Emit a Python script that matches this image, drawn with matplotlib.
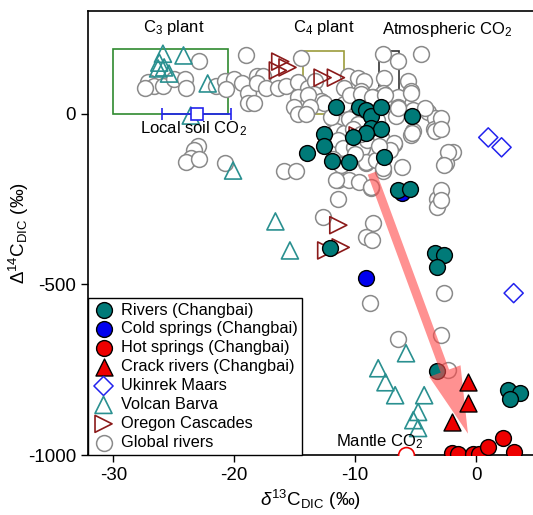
import numpy as np
import matplotlib
matplotlib.use("Agg")
import matplotlib.pyplot as plt
from matplotlib.patches import Rectangle

plt.rcParams['font.family'] = ['Liberation Sans', 'DejaVu Sans']
plt.rcParams['mathtext.fontset'] = 'custom'
plt.rcParams['mathtext.rm'] = 'Liberation Sans'
plt.rcParams['mathtext.it'] = 'Liberation Sans:italic'
plt.rcParams['axes.unicode_minus'] = False

# ---- data (d13C, D14C) ----
global_d13c = [-19.0, -22.9, -27.1, -26.6, -27.4, -25.9, -25.0, -24.1, -24.0, -21.5,
               -20.8, -20.0, -19.4, -18.9, -18.9, -18.1, -20.7, -18.4, -17.6, -18.1,
               -17.4, -16.4, -15.7, -14.5, -14.7, -13.9, -13.3, -14.7, -13.9, -15.1,
               -14.7, -13.4, -12.8, -10.6, -9.8, -9.3, -10.9, -9.5, -7.7, -6.5,
               -4.6, -7.6, -5.6, -5.4, -7.7, -8.5, -6.5, -6.5, -5.2, -4.0,
               -3.4, -3.5, -5.2, -6.6, -11.2, -11.8, -10.9, -10.6, -9.0,
               -23.0, -23.3, -23.6, -24.0, -22.9, -20.8, -15.9, -14.9,
               -11.4, -10.5, -9.7, -8.7, -11.4, -9.1, -7.7, -6.1, -6.8, -5.4,
               -3.4, -1.9, -2.5, -3.2, -3.2, -12.7, -8.5, -9.1, -8.6, -8.8,
               -2.7, -6.5, -2.9, -2.3,
               -13.9, -12.6, -13.7, -10.9, -10.4, -9.5, -8.6, -7.5, -6.5, -5.4,
               -4.2, -14.1, -11.2, -11.6, -10.9, -11.4, -11.0, -10.1, -9.4, -9.0,
               -7.9, -6.8, -7.1, -5.3, -11.8, -11.2, -9.1, -8.3, -7.7, -11.6,
               -8.7, -2.9, -2.9, -2.3, -2.7, -2.9, -2.9,
               -10.5, -9.8, -10.2, -9.5, -8.2, -8.0, -10.0, -12.0]
global_d14c = [170, 155, 91, 82, 76, 82, 102, 102, 76, 82,
               96, 102, 88, 61, 32, 111, 73, 32, 111, 88,
               76, 76, 82, 164, 91, 76, 96, 47, 32, 18,
               0, 58, 38, 111, 105, 96, 76, 67, 175, 155,
               175, 105, 96, 67, 61, 47, 47, 18, 9, 3,
               -12, -44, -50, -6, 9, -15, -35, -58, -41,
               -94, -108, -129, -143, -132, -146, -167, -167,
               -196, -196, -202, -219, -249, -146, -167, -158, -88, -64,
               -50, -114, -146, -249, -275, -304, -322, -363, -371, -556,
               -526, -661, -649, -751,
               53, 32, 18, 29, 53, 58, 47, 53, 15, 61,
               15, 0, -29, -50, -56, -79, -102, -99, -102, -79,
               -70, -85, -108, -58, -132, -152, -143, -137, -161, -196,
               -216, -12, -44, -114, -152, -225, -254,
               -15, -30, -45, -60, -20, -95, -120, -10]

rivers_d13c = [-11.6, -9.7, -9.1, -8.7, -7.9, -5.3, -8.7, -7.9, -9.1, -10.2,
               -12.6, -12.6, -14.0, -11.9, -10.5, -7.6, -6.5, -5.5, -12.1,
               -3.4, -2.7, -3.2, -3.2, 2.6, 3.6, 2.8]
rivers_d14c = [18, 18, 9, -6, 18, -6, -41, -44, -56, -70,
               -61, -94, -117, -140, -143, -126, -225, -222, -395,
               -409, -415, -450, -754, -810, -819, -836]

cold_d13c = [-9.1, -6.1]
cold_d14c = [-482, -234]

hot_d13c = [-2.0, -1.5, -0.3, 0.2, 1.0, 2.2, 3.1]
hot_d14c = [-995, -997, -997, -997, -976, -950, -992]

crack_d13c = [-0.7, -0.7, -2.0]
crack_d14c = [-787, -848, -904]

ukinrek_d13c = [1.0, 2.1, 3.1]
ukinrek_d14c = [-70, -99, -526]

barva_d13c = [-25.9, -24.2, -26.2, -26.3, -25.8, -25.4, -22.2, -23.6, -20.1, -16.6,
              -15.4, -5.8, -8.1, -7.5, -6.7, -4.3, -4.8, -5.2, -4.8]
barva_d14c = [175, 170, 149, 132, 135, 117, 88, -6, -167, -316,
              -401, -702, -746, -787, -825, -825, -874, -898, -921]

oregon_d13c = [-16.2, -15.6, -16.4, -12.7, -11.6, -9.8, -11.4, -11.2, -12.4]
oregon_d14c = [152, 135, 126, 105, 105, -64, -327, -392, -401]

# end-member ranges
c3_x, c3_y = (-30.0, -20.5), (0, 190)
c4_x, c4_y = (-14.3, -10.9), (0, 184)
atm_x, atm_y = (-8.0, -6.4), (50, 184)
soil_x, soil_y, soil_lo, soil_hi = -23.1, 0, 2.9, 2.8
mantle_x, mantle_y = -5.8, -1000
arrow_from, arrow_to = (-8.7, -167), (-0.6, -945)

teal = '#007a78'

fig = plt.figure(figsize=(5.33, 5.15), dpi=100)
ax = fig.add_axes([0.165, 0.1165, 0.835, 0.862])

for (x0, x1), (y0, y1), c in [(c3_x, c3_y, '#2f8a2f'), (c4_x, c4_y, '#9c9c3c'), (atm_x, atm_y, '#333333')]:
    ax.add_patch(Rectangle((x0, y0), x1 - x0, y1 - y0, fill=False, ec=c, lw=1.2, zorder=1))

ax.scatter(global_d13c, global_d14c, s=130, facecolor='white', edgecolor='#8a8a8a', lw=1.1,
           zorder=2, label='Global rivers')
ax.scatter(barva_d13c, barva_d14c, s=150, marker='^', facecolor='none', edgecolor='#2a9090',
           lw=1.2, zorder=3, label='Volcan Barva')
ax.scatter(oregon_d13c, oregon_d14c, s=150, marker='>', facecolor='none', edgecolor='#8b1a1a',
           lw=1.2, zorder=3, label='Oregon Cascades')
ax.scatter(ukinrek_d13c, ukinrek_d14c, s=95, marker='D', facecolor='none', edgecolor='#2222ee',
           lw=1.1, zorder=3, label='Ukinrek Maars')
ax.scatter(cold_d13c, cold_d14c, s=130, facecolor='#0000ee', edgecolor='black', lw=1.0,
           zorder=4, label='Cold springs (Changbai)')
ax.scatter(rivers_d13c, rivers_d14c, s=130, facecolor=teal, edgecolor='black', lw=1.0,
           zorder=5, label='Rivers (Changbai)')

ax.annotate('', xy=arrow_to, xytext=arrow_from, zorder=6,
            arrowprops=dict(arrowstyle='simple,head_length=2.4,head_width=1.2,tail_width=0.32',
                            mutation_scale=20, color='#ff4848', alpha=0.6, lw=0))

ax.scatter(crack_d13c, crack_d14c, s=150, marker='^', facecolor='#ee0000', edgecolor='black',
           lw=1.0, zorder=7, label='Crack rivers (Changbai)')
ax.scatter(hot_d13c, hot_d14c, s=130, facecolor='#ee0000', edgecolor='black', lw=1.0,
           zorder=7, label='Hot springs (Changbai)')
ax.scatter([mantle_x], [mantle_y], s=130, facecolor='white', edgecolor='#ee0000', lw=1.2, zorder=7)

ax.errorbar(soil_x, soil_y, xerr=[[soil_lo], [soil_hi]], fmt='s', ms=9, mfc='white', mec='#2222ee',
            mew=1.2, ecolor='#2222ee', elinewidth=1.2, capsize=4, zorder=8)

ax.text(-25.0, 252, 'C$_3$ plant', fontsize=12, ha='center', va='center')
ax.text(-12.6, 252, 'C$_4$ plant', fontsize=12, ha='center', va='center')
ax.text(-2.4, 245, 'Atmospheric CO$_2$', fontsize=12, ha='center', va='center')
ax.text(-23.4, -45, 'Local soil CO$_2$', fontsize=12, ha='center', va='center')
ax.text(-8.0, -962, 'Mantle CO$_2$', fontsize=12, ha='center', va='center')

ax.set_xlim(-32.1, 4.7)
ax.set_ylim(-1000, 300)
ax.set_xticks([-30, -20, -10, 0])
ax.set_yticks([0, -500, -1000])
ax.tick_params(labelsize=13.5, direction='out', length=5, width=1, top=False, right=False)
ax.spines['right'].set_visible(False)
for s in ['left', 'bottom', 'top']:
    ax.spines[s].set_linewidth(1.2)
ax.set_xlabel(r'$\delta^{13}$C$_{\rm DIC}$ (‰)', fontsize=13.5, labelpad=3)
ax.set_ylabel(r'$\Delta^{14}$C$_{\rm DIC}$ (‰)', fontsize=13.5)
ax.yaxis.set_label_coords(-0.128, 0.5)

order = ['Rivers (Changbai)', 'Cold springs (Changbai)', 'Hot springs (Changbai)',
         'Crack rivers (Changbai)', 'Ukinrek Maars', 'Volcan Barva', 'Oregon Cascades', 'Global rivers']
h, l = ax.get_legend_handles_labels()
hd = dict(zip(l, h))
leg = ax.legend([hd[k] for k in order], order, loc='lower left', bbox_to_anchor=(0, 0),
                borderaxespad=0, fontsize=11.8, labelspacing=0.24, handletextpad=0.4,
                handlelength=1.3, borderpad=0.3, fancybox=False, framealpha=1, edgecolor='black')
leg.get_frame().set_linewidth(1.0)
leg.set_zorder(10)

fig.savefig('out.png', dpi=100)
